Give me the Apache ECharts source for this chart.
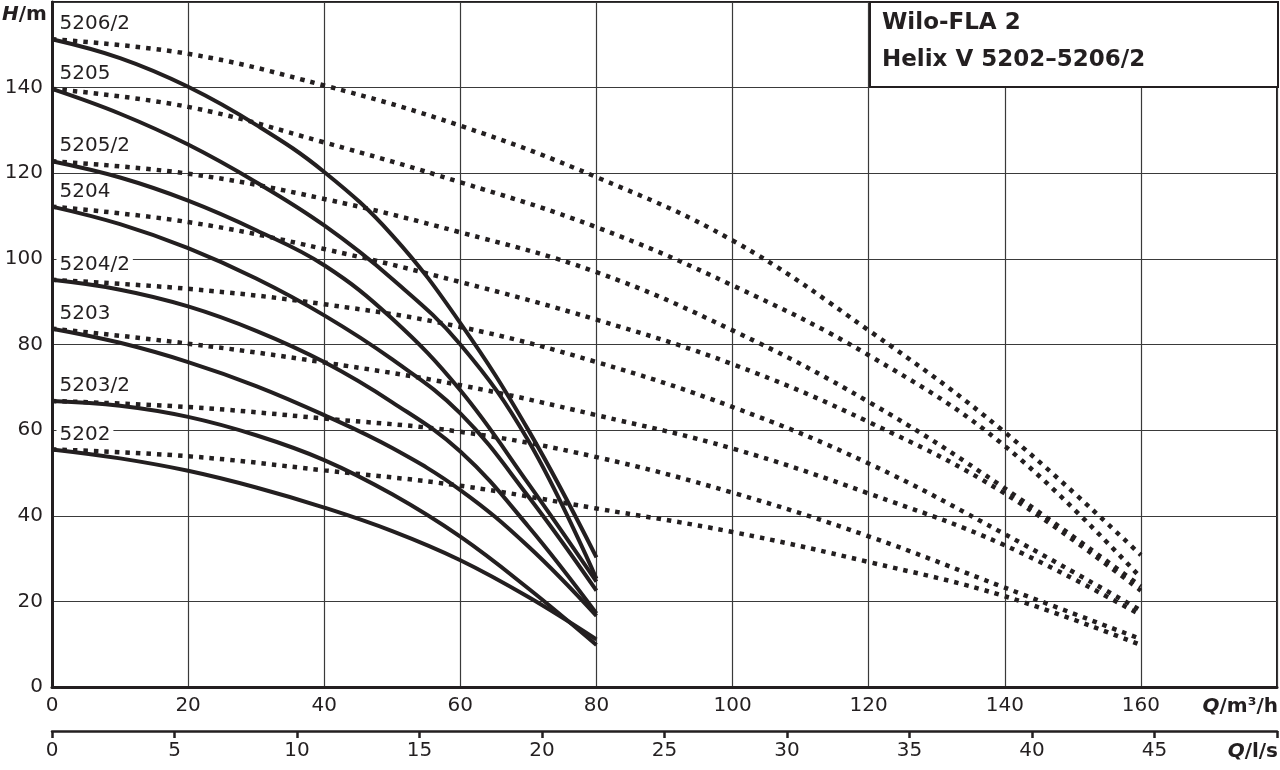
<!DOCTYPE html>
<html>
<head>
<meta charset="utf-8">
<script src="https://cdn.jsdelivr.net/npm/echarts@6/dist/echarts.min.js"></script>
<style>
  html, body { margin: 0; padding: 0; background: #fff; }
  #chart { width: 1280px; height: 770px; }
</style>
</head>
<body>
<div id="chart"></div>
<script>
// flow points (m³/h) where the curves were read
const qSolid = [0, 10, 20, 30, 40, 50, 60, 70, 80];
const qDotted = [0, 20, 40, 60, 80, 100, 120, 140, 160];

const pumpNames = ['5206/2', '5205', '5205/2', '5204', '5204/2', '5203', '5203/2', '5202'];

// solid curves, head in m at qSolid
const solid5206_2 = [151.3, 146.9, 140.2, 131.3, 120.3, 105.5, 85.0, 60.0, 30.3];
const solid5205   = [139.7, 133.9, 126.7, 117.9, 107.8, 95.3, 80.0, 57.5, 25.3];
const solid5205_2 = [122.8, 119.0, 113.6, 106.7, 98.5, 86.0, 69.3, 47.5, 24.6];
const solid5204   = [112.2, 108.1, 102.5, 95.4, 86.8, 76.5, 63.9, 44.5, 22.5];
const solid5204_2 = [95.1, 92.8, 88.9, 83.2, 75.9, 66.5, 55.0, 37.5, 17.2];
const solid5203   = [83.7, 80.4, 75.9, 70.3, 63.5, 55.8, 46.0, 32.8, 16.6];
const solid5203_2 = [66.8, 65.7, 63.1, 58.8, 53.0, 45.0, 35.1, 23.0, 9.8];
const solid5202   = [55.5, 53.4, 50.5, 46.6, 41.9, 36.4, 29.6, 21.0, 11.1];

// dotted curves, head in m at qDotted
const dotted5206_2 = [151.3, 147.9, 140.5, 131.1, 119.1, 104.3, 83.3, 59.5, 30.8];
const dotted5205   = [139.7, 135.5, 127.2, 117.9, 107.4, 93.8, 77.5, 56.3, 25.5];
const dotted5205_2 = [122.8, 119.9, 114.0, 106.2, 96.9, 83.3, 66.6, 46.4, 23.5];
const dotted5204   = [112.2, 108.6, 102.3, 94.6, 85.8, 75.4, 61.9, 45.2, 22.5];
const dotted5204_2 = [95.1, 93.0, 89.4, 84.1, 75.9, 65.4, 52.2, 35.7, 17.9];
const dotted5203   = [83.7, 80.2, 75.8, 70.5, 63.5, 55.7, 45.2, 33.1, 16.8];
const dotted5203_2 = [66.8, 65.4, 62.7, 59.6, 53.7, 45.4, 35.2, 23.2, 11.2];
const dotted5202   = [55.5, 53.9, 50.6, 47.0, 41.7, 36.2, 29.2, 21.2, 9.8];

const solidHeads = [solid5206_2, solid5205, solid5205_2, solid5204, solid5204_2, solid5203, solid5203_2, solid5202];
const dottedHeads = [dotted5206_2, dotted5205, dotted5205_2, dotted5204, dotted5204_2, dotted5203, dotted5203_2, dotted5202];

const ink = '#231f20';
const font = 'DejaVu Sans';

const chart = echarts.init(document.getElementById('chart'));

const dottedSeries = dottedHeads.map((heads, i) => ({
    name: pumpNames[i] + ' dotted',
    type: 'line',
    xAxisIndex: 0,
    smooth: 0.4,
    symbol: 'none',
    lineStyle: { color: ink, width: 4.5, type: [4.5, 6], cap: 'butt' },
    data: heads.map((h, k) => [qDotted[k], h]),
    z: 2
}))

const solidSeries = solidHeads.map((heads, i) => ({
    name: pumpNames[i],
    type: 'line',
    xAxisIndex: 0,
    smooth: 0.4,
    symbol: 'circle',
    symbolSize: 1,
    showSymbol: true,
    showAllSymbol: true,
    itemStyle: { color: 'rgba(0,0,0,0)' },
    lineStyle: { color: ink, width: 4 },
    data: heads.map((h, k) => {
        if (k > 0) return [qSolid[k], h]
        // curve name sits just above the start of each curve
        return {
            value: [qSolid[k], h],
            label: {
                show: true,
                position: 'right',
                distance: 4,
                offset: [0, -15],
                formatter: pumpNames[i],
                color: ink,
                fontFamily: font,
                fontSize: 20,
                backgroundColor: '#fff',
                padding: [0, 3]
            }
        }
    }),
    z: 3
}))

const option = {
    animation: false,
    backgroundColor: '#fff',
    grid: {
        left: 52, right: 2, top: 2, bottom: 83,
        show: true,
        borderColor: ink,
        borderWidth: 2
    },
    xAxis: [
        {
            type: 'value',
            min: 0, max: 180, interval: 20,
            axisLine: { show: true, lineStyle: { color: ink, width: 3 } },
            axisTick: { show: false },
            axisLabel: {
                margin: 9,
                color: ink, fontFamily: font, fontSize: 20,
                formatter: v => v >= 180 ? '' : String(v)
            },
            splitLine: { show: true, lineStyle: { color: '#3a3a3a', width: 1.2 } }
        },
        {
            type: 'value',
            position: 'bottom',
            offset: 44,
            min: 0, max: 50, interval: 5,
            axisLine: { show: true, onZero: false, lineStyle: { color: ink, width: 2.5 } },
            axisTick: { show: true, inside: false, length: 7, lineStyle: { color: ink, width: 2.5 } },
            axisLabel: {
                margin: 10,
                color: ink, fontFamily: font, fontSize: 20,
                formatter: v => v >= 50 ? '' : String(v)
            },
            splitLine: { show: false }
        }
    ],
    yAxis: {
        type: 'value',
        min: 0, max: 160, interval: 20,
        axisLine: { show: true, lineStyle: { color: ink, width: 3 } },
        axisTick: { show: false },
        axisLabel: {
            margin: 9,
            color: ink, fontFamily: font, fontSize: 20,
            formatter: v => v >= 160 ? '' : String(v)
        },
        splitLine: { show: true, lineStyle: { color: '#3a3a3a', width: 1.2 } }
    },
    graphic: [
        {
            type: 'rect',
            shape: { x: 870, y: 2, width: 408, height: 85 },
            style: { fill: '#fff', stroke: ink, lineWidth: 2 },
            z: 10
        },
        {
            type: 'text', x: 882, y: 23, z: 11,
            style: { text: 'Wilo-FLA 2', fill: ink, font: 'bold 23px "DejaVu Sans"', verticalAlign: 'middle' }
        },
        {
            type: 'text', x: 882, y: 60, z: 11,
            style: { text: 'Helix V 5202–5206/2', fill: ink, font: 'bold 23px "DejaVu Sans"', verticalAlign: 'middle' }
        },
        {
            type: 'text', x: 2, y: 15, z: 11,
            style: {
                text: '{i|H}{n|/m}', verticalAlign: 'middle',
                rich: {
                    i: { font: 'italic bold 20px "DejaVu Sans"', fill: ink },
                    n: { font: 'bold 20px "DejaVu Sans"', fill: ink }
                }
            }
        },
        {
            type: 'text', x: 1278, y: 707, z: 11,
            style: {
                text: '{i|Q}{n|/m³/h}', align: 'right', verticalAlign: 'middle',
                rich: {
                    i: { font: 'italic bold 20px "DejaVu Sans"', fill: ink },
                    n: { font: 'bold 20px "DejaVu Sans"', fill: ink }
                }
            }
        },
        {
            type: 'text', x: 1278, y: 752, z: 11,
            style: {
                text: '{i|Q}{n|/l/s}', align: 'right', verticalAlign: 'middle',
                rich: {
                    i: { font: 'italic bold 20px "DejaVu Sans"', fill: ink },
                    n: { font: 'bold 20px "DejaVu Sans"', fill: ink }
                }
            }
        }
    ],
    series: [...dottedSeries, ...solidSeries]
};

chart.setOption(option);
</script>
</body>
</html>
